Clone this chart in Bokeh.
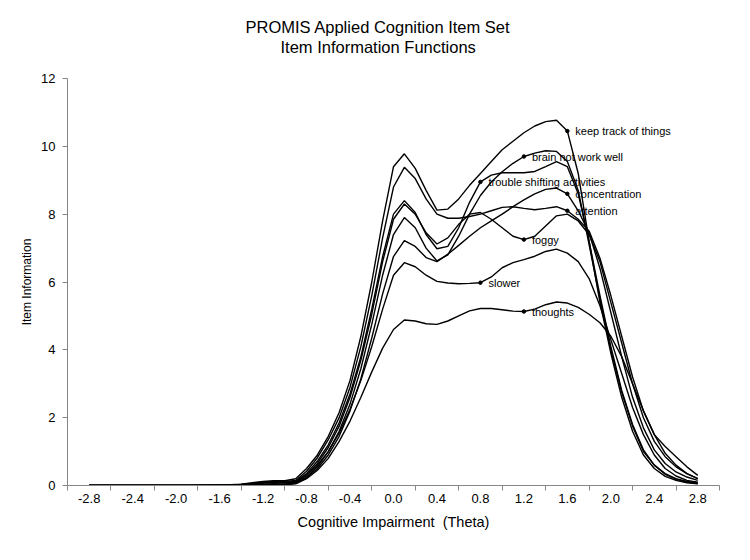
from bokeh.plotting import figure
from bokeh.models import Range1d, FixedTicker, PrintfTickFormatter, Title
from bokeh.core.properties import value
from bokeh.embed import file_html
from bokeh.resources import INLINE

theta = [-2.8, -2.7, -2.6, -2.5, -2.4, -2.3, -2.2, -2.1, -2.0,
         -1.9, -1.8, -1.7, -1.6,
         -1.5, -1.4, -1.3, -1.2, -1.1, -1.0,
         -0.9, -0.8, -0.7, -0.6, -0.5, -0.4, -0.3, -0.2, -0.1,
         0.0, 0.1, 0.2, 0.3, 0.4, 0.5, 0.6, 0.7, 0.8, 0.9,
         1.0, 1.1, 1.2, 1.3, 1.4, 1.5, 1.6, 1.7, 1.8, 1.9,
         2.0, 2.1, 2.2, 2.3, 2.4, 2.5, 2.6, 2.7, 2.8]

keep_track = [0, 0, 0, 0, 0, 0, 0, 0, 0,
              0.0, 0.01, 0.01, 0.01,
              0.02, 0.04, 0.08, 0.12, 0.14, 0.14,
              0.2, 0.5, 0.9, 1.45, 2.15, 3.1, 4.4, 6.0, 7.8,
              9.4, 9.78, 9.35, 8.7, 8.12, 8.15, 8.45, 8.85, 9.2, 9.55,
              9.9, 10.15, 10.4, 10.6, 10.73, 10.77, 10.45, 9.2, 7.2, 5.4,
              3.9, 2.6, 1.6, 0.9, 0.5, 0.27, 0.15, 0.08, 0.05]

brain = [0, 0, 0, 0, 0, 0, 0, 0, 0,
         0, 0, 0, 0,
         0.0, 0.01, 0.02, 0.04, 0.05, 0.04,
         0.08, 0.25, 0.55, 1.0, 1.6, 2.4, 3.45, 4.75, 6.2,
         7.4, 7.9, 7.6, 7.0, 6.62, 6.8, 7.35, 8.0, 8.55, 8.95,
         9.25, 9.5, 9.7, 9.8, 9.87, 9.85, 9.55, 8.7, 7.1, 5.5,
         4.0, 2.75, 1.75, 1.0, 0.6, 0.35, 0.2, 0.12, 0.08]

trouble = [0, 0, 0, 0, 0, 0, 0, 0, 0,
           0.0, 0.0, 0.0, 0.01,
           0.01, 0.03, 0.05, 0.09, 0.12, 0.1,
           0.12, 0.35, 0.72, 1.2, 1.85, 2.7, 3.8, 5.2, 6.75,
           8.0, 8.4, 8.05, 7.4, 6.98, 7.05, 7.6, 8.35, 8.95, 9.15,
           9.22, 9.22, 9.22, 9.26, 9.4, 9.55, 9.4, 8.6, 7.2, 5.6,
           4.1, 2.8, 1.8, 1.05, 0.6, 0.33, 0.18, 0.1, 0.06]

concentration = [0, 0, 0, 0, 0, 0, 0, 0, 0,
                 0, 0, 0, 0,
                 0.0, 0.01, 0.02, 0.03, 0.04, 0.03,
                 0.07, 0.22, 0.5, 0.9, 1.45, 2.2, 3.15, 4.35, 5.65,
                 6.75, 7.22, 7.05, 6.72, 6.6, 6.82, 7.08, 7.35, 7.6, 7.8,
                 8.0, 8.22, 8.42, 8.6, 8.73, 8.77, 8.6, 8.1, 7.45, 6.4,
                 5.1, 3.8, 2.6, 1.7, 1.05, 0.65, 0.4, 0.25, 0.15]

attention = [0, 0, 0, 0, 0, 0, 0, 0, 0,
             0.0, 0.0, 0.01, 0.01,
             0.02, 0.03, 0.06, 0.1, 0.13, 0.12,
             0.15, 0.42, 0.82, 1.35, 2.0, 2.9, 4.1, 5.6, 7.3,
             8.8, 9.38, 9.05, 8.45, 8.0, 7.88, 7.88, 7.93, 8.0, 8.1,
             8.2, 8.22, 8.17, 8.13, 8.17, 8.22, 8.1, 7.85, 7.5, 6.7,
             5.6, 4.4, 3.2, 2.2, 1.5, 1.15, 0.85, 0.55, 0.3]

foggy = [0, 0, 0, 0, 0, 0, 0, 0, 0,
         0, 0, 0, 0.01,
         0.01, 0.02, 0.04, 0.07, 0.09, 0.07,
         0.1, 0.3, 0.65, 1.12, 1.75, 2.6, 3.7, 5.05, 6.6,
         7.85, 8.3, 8.0, 7.45, 7.12, 7.3, 7.7, 8.0, 8.05, 7.85,
         7.6, 7.35, 7.25, 7.35, 7.65, 7.95, 8.0, 7.8, 7.4, 6.6,
         5.4, 4.2, 3.0, 2.0, 1.3, 0.85, 0.55, 0.35, 0.2]

slower = [0, 0, 0, 0, 0, 0, 0, 0, 0,
          0, 0, 0.01, 0.01,
          0.01, 0.02, 0.04, 0.08, 0.1, 0.08,
          0.1, 0.3, 0.6, 1.0, 1.55, 2.25, 3.1, 4.1, 5.2,
          6.2, 6.57, 6.45, 6.2, 6.02, 5.97, 5.95, 5.96, 5.98, 6.15,
          6.42, 6.57, 6.66, 6.76, 6.9, 6.97, 6.85, 6.6, 6.1, 5.3,
          4.3, 3.3, 2.3, 1.5, 0.9, 0.5, 0.28, 0.15, 0.1]

thoughts = [0, 0, 0, 0, 0, 0, 0, 0, 0,
            0, 0, 0, 0,
            0.0, 0.0, 0.01, 0.02, 0.02, 0.02,
            0.05, 0.2, 0.45, 0.8, 1.3, 1.9, 2.6, 3.35, 4.05,
            4.6, 4.88, 4.85, 4.77, 4.75, 4.85, 5.0, 5.15, 5.22, 5.22,
            5.18, 5.14, 5.13, 5.2, 5.33, 5.41, 5.38, 5.25, 5.05, 4.8,
            4.4, 3.8, 3.0, 2.2, 1.5, 0.95, 0.6, 0.35, 0.2]

item_names = ["keep track of things", "brain not work well", "trouble shifting activities",
              "concentration", "attention", "foggy", "slower", "thoughts"]
item_series = [keep_track, brain, trouble, concentration, attention, foggy, slower, thoughts]
label_theta = [1.6, 1.2, 0.8, 1.6, 1.6, 1.2, 0.8, 1.2]

title_lines = ["PROMIS Applied Cognition Item Set", "Item Information Functions"]

x_tick_labels = [-2.8, -2.4, -2.0, -1.6, -1.2, -0.8, -0.4, 0.0, 0.4, 0.8, 1.2, 1.6, 2.0, 2.4, 2.8]
x_tick_marks = [-3.0, -2.6, -2.2, -1.8, -1.4, -1.0, -0.6, -0.2, 0.2, 0.6, 1.0, 1.4, 1.8, 2.2, 2.6, 3.0]
y_ticks = [0, 2, 4, 6, 8, 10, 12]

FONT = "Liberation Sans"
AXIS_GRAY = "#868686"

p = figure(frame_width=652, frame_height=407,
           x_range=Range1d(-3.0, 3.0), y_range=Range1d(0, 12),
           output_backend="svg", toolbar_location=None,
           min_border_left=67, min_border_right=23, min_border_top=78, min_border_bottom=67)
p.title.visible = False

# Title panels stack outward from the frame: a thin spacer, then line 2, then line 1.
p.add_layout(Title(text=" ", text_font_size="1px", standoff=19), "above")
p.add_layout(Title(text=title_lines[1], align="left", offset=213, standoff=1,
                   text_font=FONT, text_font_size="16.5px", text_font_style="normal",
                   text_color="black"), "above")
p.add_layout(Title(text=title_lines[0], align="left", offset=178, standoff=0,
                   text_font=FONT, text_font_size="16.5px", text_font_style="normal",
                   text_color="black"), "above")

p.xgrid.visible = False
p.ygrid.visible = False
p.outline_line_color = None
p.background_fill_color = "white"
p.border_fill_color = "white"

for series in item_series:
    p.line(theta, series, line_color="black", line_width=1.4)

mx, my = [], []
for name, series, lt in zip(item_names, item_series, label_theta):
    idx = min(range(len(theta)), key=lambda i: abs(theta[i] - lt))
    mx.append(theta[idx])
    my.append(series[idx])
p.scatter(mx, my, size=3.5, marker="circle", color="black")
p.text(mx, my, text=item_names, x_offset=8, text_baseline="middle", text_align="left",
       text_font=value(FONT), text_font_size="11px", text_color="black")

xa = p.xaxis[0]
xa.ticker = FixedTicker(ticks=x_tick_labels, minor_ticks=x_tick_marks)
xa.formatter = PrintfTickFormatter(format="%.1f")
xa.axis_line_color = AXIS_GRAY
xa.major_tick_line_color = None
xa.major_tick_out = 0
xa.major_tick_in = 0
xa.minor_tick_line_color = AXIS_GRAY
xa.minor_tick_out = 5
xa.minor_tick_in = 0
xa.major_label_standoff = 3
xa.major_label_text_font = FONT
xa.major_label_text_font_size = "13px"
xa.major_label_text_color = "black"
xa.axis_label = "Cognitive Impairment\u00a0 (Theta)"
xa.axis_label_text_font = FONT
xa.axis_label_text_font_size = "14.5px"
xa.axis_label_text_font_style = "normal"
xa.axis_label_text_color = "black"
xa.axis_label_standoff = 8

ya = p.yaxis[0]
ya.ticker = FixedTicker(ticks=y_ticks)
ya.axis_line_color = AXIS_GRAY
ya.major_tick_line_color = AXIS_GRAY
ya.major_tick_out = 5
ya.major_tick_in = 0
ya.minor_tick_line_color = None
ya.major_label_standoff = 7
ya.major_label_text_font = FONT
ya.major_label_text_font_size = "13px"
ya.major_label_text_color = "black"
ya.axis_label = "Item Information"
ya.axis_label_text_font = FONT
ya.axis_label_text_font_size = "12px"
ya.axis_label_text_font_style = "normal"
ya.axis_label_text_color = "black"
ya.axis_label_standoff = 4

open("out.html", "w").write(file_html(p, INLINE))
